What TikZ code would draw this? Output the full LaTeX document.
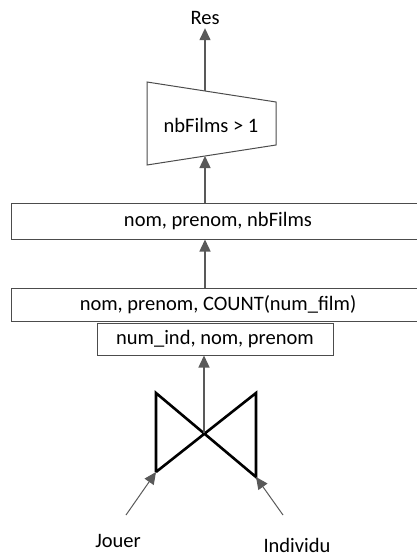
\documentclass[tikz,border=0pt]{standalone}
\usepackage{fontspec}
\setmainfont{Carlito}
\usetikzlibrary{arrows.meta}

\begin{document}
\begin{tikzpicture}[x=1pt,y=-1pt,font=\fontsize{20.5}{24}\selectfont,
    flow/.style={draw=black!65,line width=1.4pt,-{Triangle[length=12pt,width=11pt]}},
    relbox/.style={rectangle,draw=black!70,line width=1pt,inner sep=0pt},
    bowtie/.style={line width=2.6pt,line join=miter}]

    \clip (0,0) rectangle (417,557);

    % result and selection
    \node (res) at (205,18) {Res};
    \node (filt) at (211,125) {nbFilms > 1};
    \draw[line width=1pt,draw=black!70] (147,82) -- (276,102) -- (276,145) -- (147,165) -- cycle;
    \coordinate (ttop) at (205,91);
    \coordinate (tbot) at (205,156);

    % projections
    \node[relbox,minimum width=414pt,minimum height=36pt] (proj) at (218,221)
    {nom, prenom, nbFilms};
    \node[relbox,minimum width=414pt,minimum height=33pt] (grp) at (218,304.5)
    {nom, prenom, COUNT(num\_film)};
    \node[relbox,minimum width=236pt,minimum height=32pt] (sel) at (215,339)
    {num\_ind, nom, prenom};

    % join
    \coordinate (j1) at (156,393);
    \coordinate (j2) at (156,472);
    \coordinate (j3) at (256,393);
    \coordinate (j4) at (256,477);
    \coordinate (jc) at (204,433);
    \draw[bowtie] (j2) -- (j1) -- (j4) -- (j3) -- (j2);

    % inputs
    \node[inner sep=1pt] (jouer) at (118,541) {Jouer};
    \node[inner sep=1pt] (indiv) at (297,545) {Individu};
    \coordinate (jin) at (126,515);
    \coordinate (iin) at (283,515);

    \draw[flow] (ttop) -- (res.south);
    \draw[flow] (proj.north -| ttop) -- (tbot);
    \draw[flow] (grp.north -| ttop) -- (proj.south -| ttop);
    \draw[flow] (jc) -- (sel.south -| jc);
    \draw[flow,line width=1pt] (jin) -- (j2);
    \draw[flow,line width=1pt] (iin) -- (j4);
\end{tikzpicture}
\end{document}
